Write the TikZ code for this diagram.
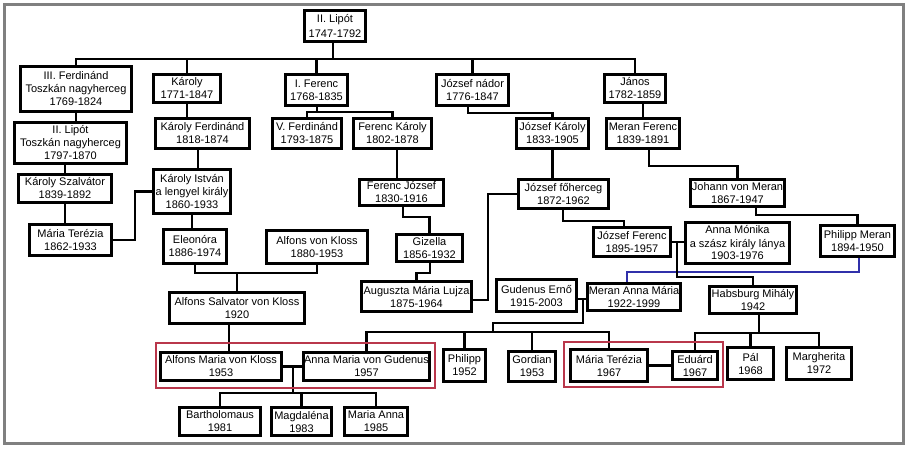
\documentclass[tikz,border=0pt]{standalone}
\usepackage{fontspec}
\setmainfont{Liberation Sans}
\tikzset{
  pbox/.style={draw=black, line width=3pt, fill=white, inner sep=0pt, align=center,
    font=\fontsize{11}{13}\selectfont},
  conn/.style={line width=2.8pt, line join=miter},
  blueconn/.style={line width=2.8pt, line join=miter, draw={rgb,255:red,48;green,48;blue,170}},
  redbox/.style={line width=1.5pt, draw={rgb,255:red,185;green,55;blue,75}},
  frame/.style={line width=3pt, draw={rgb,255:red,128;green,128;blue,128}}
}
\newcommand\famnode[7][]{\node[pbox,#1,minimum width={(#5-#3-3)*1pt},minimum height={(#6-#4-3)*1pt}] (#2) at ({(#3+#5)/2},{(#4+#6)/2}) {#7};}
\begin{document}
\begin{tikzpicture}[x=1pt,y=-1pt]
\useasboundingbox (0,0) rectangle (908,450);
\fill[white] (0,0) rectangle (908,450);
\draw[frame] (4.5,4.5) rectangle (903.5,443.5);

% generation rows
\famnode[font=\fontsize{11}{15}\selectfont]{lipot}{303}{9}{367}{43}{II. Lipót\\1747-1792}
\famnode{ferd3}{19}{65}{133}{113}{III. Ferdinánd\\Toszkán nagyherceg\\1769-1824}
\famnode{karoly}{152}{73}{222}{104}{Károly\\1771-1847}
\famnode{ferenc1}{284}{73}{349}{107}{I. Ferenc\\1768-1835}
\famnode{jnador}{435}{73}{510}{107}{József nádor\\1776-1847}
\famnode{janos}{603}{73}{667}{104}{János\\1782-1859}
\famnode{lipot2}{13}{121}{128}{165}{II. Lipót\\Toszkán nagyherceg\\1797-1870}
\famnode{kferd}{154}{117}{251}{150}{Károly Ferdinánd\\1818-1874}
\famnode{ferd5}{271}{117}{343}{150}{V. Ferdinánd\\1793-1875}
\famnode{fkaroly}{352}{117}{433}{150}{Ferenc Károly\\1802-1878}
\famnode{jkaroly}{515}{117}{590}{150}{József Károly\\1833-1905}
\famnode{mferenc}{605}{117}{681}{150}{Meran Ferenc\\1839-1891}
\famnode{kszalv}{17}{173}{113}{204}{Károly Szalvátor\\1839-1892}
\famnode{mterezia}{28}{223}{113}{257}{Mária Terézia\\1862-1933}
\famnode{kistvan}{152}{168}{232}{215}{Károly István\\a lengyel király\\1860-1933}
\famnode{eleonora}{162}{228}{228}{265}{Eleonóra\\1886-1974}
\famnode{akloss}{265}{229}{369}{265}{Alfons von Kloss\\1880-1953}
\famnode{fjozsef}{358}{178}{445}{207}{Ferenc József\\1830-1916}
\famnode{gizella}{395}{233}{464}{263}{Gizella\\1856-1932}
\famnode{auguszta}{360}{280}{473}{313}{Auguszta Mária Lujza\\1875-1964}
\famnode{jfoherceg}{517}{178}{610}{210}{József főherceg\\1872-1962}
\famnode{johann}{689}{178}{786}{208}{Johann von Meran\\1867-1947}
\famnode{jferenc}{592}{226}{672}{258}{József Ferenc\\1895-1957}
\famnode{amonika}{684}{221}{791}{265}{Anna Mónika\\a szász király lánya\\1903-1976}
\famnode{pmeran}{819}{224}{896}{258}{Philipp Meran\\1894-1950}
\famnode{asalv}{168}{291}{306}{325}{Alfons Salvator von Kloss\\1920}
\famnode{gudenus}{495}{278}{578}{313}{Gudenus Ernő\\1915-2003}
\famnode{manna}{586}{282}{682}{312}{Meran Anna Mária\\1922-1999}
\famnode{mihaly}{708}{285}{798}{315}{Habsburg Mihály\\1942}
\famnode{amkloss}{159}{351}{283}{382}{Alfons Maria von Kloss\\1953}
\famnode{amgud}{302}{351}{431}{382}{Anna Maria von Gudenus\\1957}
\famnode{philipp}{442}{348}{487}{383}{Philipp\\1952}
\famnode{gordian}{507}{350}{557}{383}{Gordian\\1953}
\famnode{mterez2}{569}{348}{649}{383}{Mária Terézia\\1967}
\famnode{eduard}{671}{350}{719}{381}{Eduárd\\1967}
\famnode{pal}{726}{346}{775}{381}{Pál\\1968}
\famnode{margh}{785}{346}{853}{381}{Margherita\\1972}
\famnode{barth}{178}{406}{262}{437}{Bartholomaus\\1981}
\famnode{magd}{270}{406}{333}{437}{Magdaléna\\1983}
\famnode{manna2}{343}{406}{409}{437}{Maria Anna\\1985}

% II. Lipót's children
\coordinate (j0) at (333,59);
\draw[conn] (lipot.south -| j0) -- (j0);
\draw[conn] (ferd3.north) -- (ferd3.north |- j0) -- (janos.north |- j0) -- (janos.north);
\draw[conn] (karoly.north) -- (karoly.north |- j0);
\draw[conn] (ferenc1.north) -- (ferenc1.north |- j0);
\draw[conn] (jnador.north) -- (jnador.north |- j0);

% Tuscan line
\draw[conn] (ferd3.south) -- (ferd3.south |- lipot2.north);
\draw[conn] (kszalv.north) -- (kszalv.north |- lipot2.south);
\draw[conn] (kszalv.south) -- (kszalv.south |- mterezia.north);

% Károly line
\draw[conn] (karoly.south) -- (karoly.south |- kferd.north);
\draw[conn] (kferd.south -| 198,0) -- (kistvan.north -| 198,0);
\draw[conn] (mterezia.east) -- (135,240) |- (kistvan.west);
\draw[conn] (kistvan.south) -- (kistvan.south |- eleonora.north);
\coordinate (m1) at (237,273);
\draw[conn] (eleonora.south) |- (m1) -| (akloss.south);
\draw[conn] (asalv.north) -- (asalv.north |- m1);
\draw[conn] (asalv.south -| 229,0) -- (amkloss.north -| 229,0);

% I. Ferenc line
\coordinate (m2) at (317,112);
\draw[conn] (ferenc1.south -| m2) -- (m2);
\draw[conn] (ferd5.north) -- (ferd5.north |- m2) -- (fkaroly.north |- m2) -- (fkaroly.north);
\draw[conn] (fkaroly.south -| 397,0) -- (fjozsef.north -| 397,0);
\draw[conn] (fjozsef.south -| 403,0) -- (403,217) -| (gizella.north);
\draw[conn] (gizella.south -| 430,0) -- (430,273) -| (auguszta.north);

% József nádor line
\draw[conn] (jnador.south -| 468,0) -- (468,113) -| (jkaroly.north);
\draw[conn] (jkaroly.south) -- (jkaroly.south |- jfoherceg.north);
\draw[conn] (jfoherceg.west) -| (488,300) -- (auguszta.east |- 0,300);
\draw[conn] (jfoherceg.south -| 563,0) -- (563,221) -| (jferenc.north -| 624,0);

% János line
\draw[conn] (mferenc.north) -- (mferenc.north |- janos.south);
\draw[conn] (mferenc.south -| 649,0) -- (649,166) -| (johann.north);
\draw[conn] (johann.south -| 756,0) -- (756,215) -| (pmeran.north);
\draw[blueconn] (pmeran.south -| 859,0) -- (859,272) -| (manna.north -| 627,0);

% József Ferenc + Anna Mónika
\draw[conn] (jferenc.east) -- (amonika.west |- jferenc.east);
\coordinate (m3) at (677,242);
\draw[conn] (m3) -- (677,277) -| (mihaly.north);

% Gudenus Ernő + Meran Anna Mária
\draw[conn] (gudenus.east |- 0,299) -- (manna.west |- 0,299);
\coordinate (m4) at (583,299);
\coordinate (m5) at (493,332);
\draw[conn] (m4) -- (583,323) -- (493,323) -- (m5);
\draw[conn] (amgud.north) -- (amgud.north |- m5) -- (mterez2.north |- m5) -- (mterez2.north);
\draw[conn] (philipp.north) -- (philipp.north |- m5);
\draw[conn] (gordian.north) -- (gordian.north |- m5);

% Alfons Maria + Anna Maria
\draw[conn] (amkloss.east) -- (amgud.west);
\coordinate (m6) at (293,393);
\draw[conn] (amkloss.east -| m6) -- (m6);
\draw[conn] (barth.north) -- (barth.north |- m6) -- (manna2.north |- m6) -- (manna2.north);
\draw[conn] (magd.north) -- (magd.north |- m6);

% Mária Terézia + Eduárd, Habsburg Mihály's children
\draw[conn] (mterez2.east) -- (eduard.west |- mterez2.east);
\coordinate (m7) at (759,333);
\draw[conn] (mihaly.south -| m7) -- (m7);
\draw[conn] (eduard.north) -- (eduard.north |- m7) -- (margh.north |- m7) -- (margh.north);
\draw[conn] (pal.north) -- (pal.north |- m7);

% red frames
\draw[redbox] (156,343) rectangle (435,388);
\draw[redbox] (564,342) rectangle (723,387);
\end{tikzpicture}
\end{document}
